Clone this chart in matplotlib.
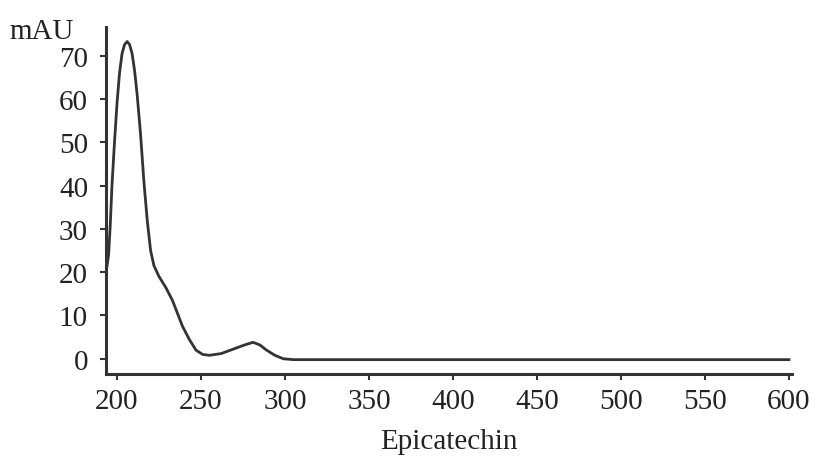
import matplotlib
matplotlib.use("Agg")
import matplotlib.pyplot as plt
from matplotlib.ticker import MultipleLocator

# Epicatechin UV spectrum (wavelength nm, absorbance mAU)
wavelength = [193.5, 195, 196, 197, 198.5, 200, 201.5, 203, 204.5, 206, 207.5,
              209, 210.5, 212, 214, 216, 218, 220, 222, 225, 229, 233, 236,
              239, 243, 247, 251, 255, 262, 269, 276, 281, 285, 289, 294,
              299, 305, 350, 400, 450, 500, 550, 600]
mau = [20, 24, 31, 40, 50, 59, 66, 70.5, 72.6, 73.3, 72.6,
       70.5, 66.5, 61, 52, 41, 32, 25, 21.5, 19, 16.5, 13.5, 10.5,
       7.5, 4.5, 2, 1, 0.8, 1.2, 2.2, 3.2, 3.8, 3.2, 2, 0.8,
       0, -0.2, -0.2, -0.2, -0.2, -0.2, -0.2, -0.2]

x_ticks = [200, 250, 300, 350, 400, 450, 500, 550, 600]
y_ticks = [0, 10, 20, 30, 40, 50, 60, 70]

plt.rcParams["font.family"] = ["Liberation Serif", "DejaVu Serif"]

fig = plt.figure(figsize=(8.16, 4.64), dpi=100)
ax = fig.add_axes([0.130, 0.192, 0.841, 0.748])

ink = "#333333"
ax.plot(wavelength, mau, color=ink, lw=2.0, solid_joinstyle="round")

ax.set_xlim(193.5, 602)
ax.set_ylim(-3.5, 76.7)
ax.set_xticks(x_ticks)
ax.set_yticks(y_ticks)
ax.xaxis.set_minor_locator(MultipleLocator(5))
ax.yaxis.set_minor_locator(MultipleLocator(1))

for side in ("top", "right"):
    ax.spines[side].set_visible(False)
for side in ("left", "bottom"):
    ax.spines[side].set_color(ink)
    ax.spines[side].set_linewidth(2.2)

ax.tick_params(which="major", length=4, width=1.5, color=ink,
               labelsize=21, labelcolor="#222222", pad=6)
ax.tick_params(axis="y", which="major", pad=9)
ax.tick_params(which="minor", length=2, width=1, color=ink, direction="inout")

ax.set_xlabel("Epicatechin", fontsize=21, color="#222222", labelpad=10)
fig.text(0.012, 0.932, "mAU", fontsize=21, color="#222222", ha="left", va="center")

fig.savefig("out.png", dpi=100)
plt.close(fig)
